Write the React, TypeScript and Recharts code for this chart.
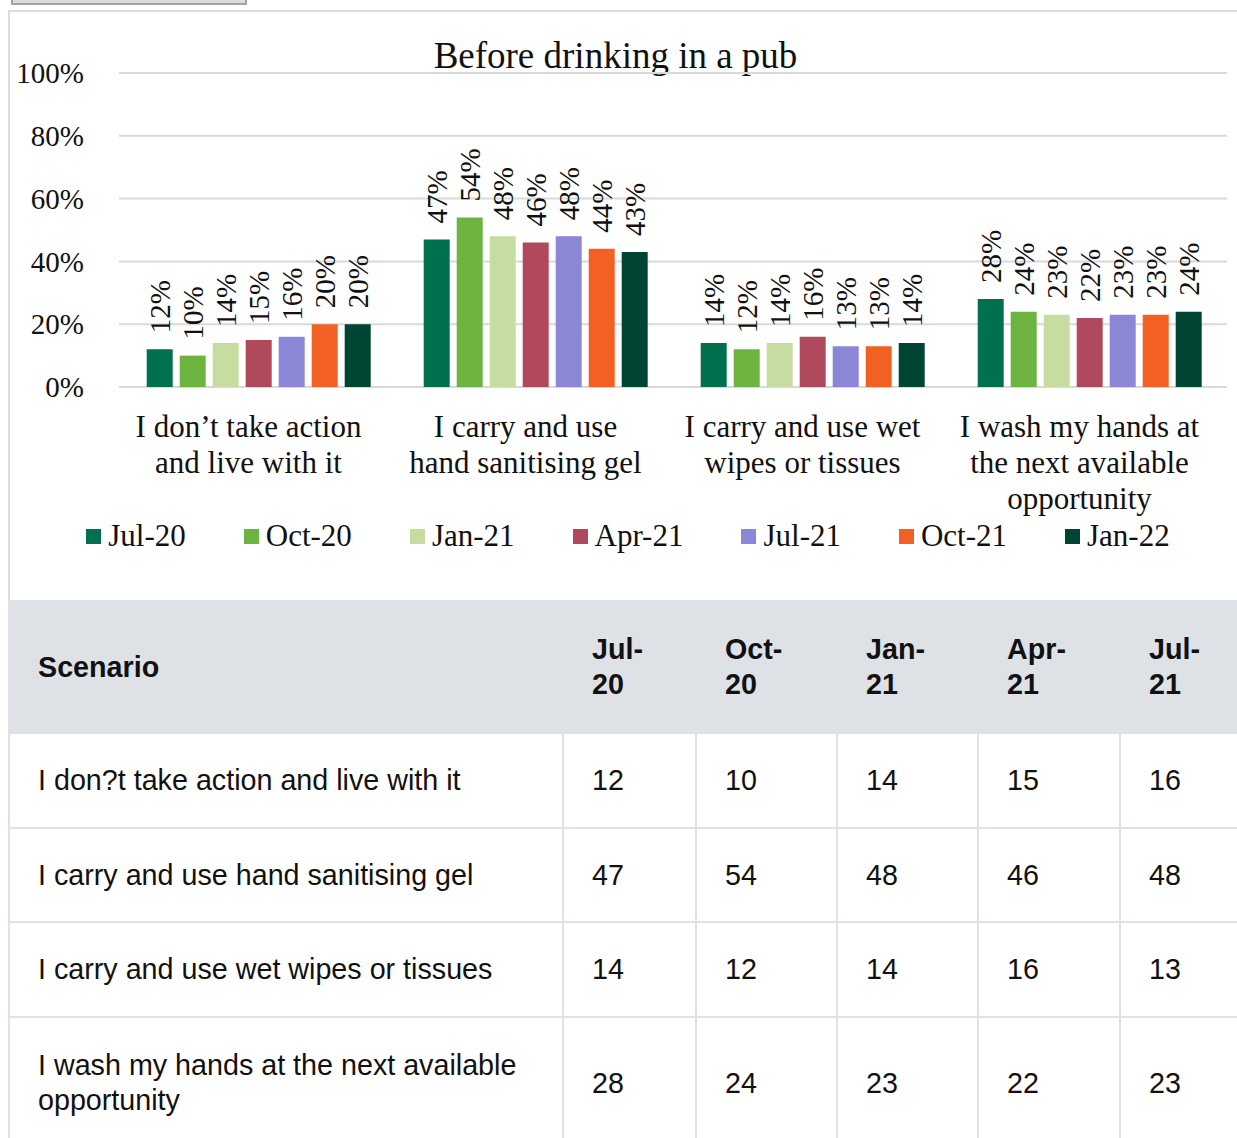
import React from 'react';
import { BarChart, Bar, XAxis, YAxis, CartesianGrid, LabelList, Legend } from 'recharts';

// categories as shown under the bars
const categories = [
  'I don’t take action and live with it',
  'I carry and use hand sanitising gel',
  'I carry and use wet wipes or tissues',
  'I wash my hands at the next available opportunity',
];

const waves = ['Jul-20', 'Oct-20', 'Jan-21', 'Apr-21', 'Jul-21', 'Oct-21', 'Jan-22'];

// % per wave, one value per category
const jul20 = [12, 47, 14, 28];
const oct20 = [10, 54, 12, 24];
const jan21 = [14, 48, 14, 23];
const apr21 = [15, 46, 16, 22];
const jul21 = [16, 48, 13, 23];
const oct21 = [20, 44, 13, 23];
const jan22 = [20, 43, 14, 24];

const yTicks = [0, 20, 40, 60, 80, 100];

const seriesValues = [jul20, oct20, jan21, apr21, jul21, oct21, jan22];
const colors = ['#00704f', '#6db33f', '#c6dca0', '#b0495b', '#8c86d6', '#f26024', '#004433'];

// the table on the page only shows the first five waves before the edge
const tableWaveCount = 5;

const chartData = categories.map((name, i) => {
  const row: Record<string, string | number> = { name };
  seriesValues.forEach((vals, j) => {
    row['s' + j] = vals[i];
  });
  return row;
});

const SERIF = '"Liberation Serif", "Times New Roman", serif';
const SANS = '"Liberation Sans", Arial, sans-serif';

function wrapWords(text: string, maxChars: number) {
  const lines: string[] = [];
  let cur = '';
  text.split(' ').forEach((w) => {
    const next = cur ? cur + ' ' + w : w;
    if (next.length > maxChars && cur) {
      lines.push(cur);
      cur = w;
    } else {
      cur = next;
    }
  });
  if (cur) lines.push(cur);
  return lines;
}

const CategoryTick = (props: any) => {
  const { x, y, payload } = props;
  const lines = wrapWords(String(payload.value), 19);
  const cx = x - 9;
  return (
    <text x={cx} y={y + 50} textAnchor="middle" fontFamily={SERIF} fontSize={31} fill="#111">
      {lines.map((l, i) => (
        <tspan key={i} x={cx} dy={i === 0 ? 0 : 36}>
          {l}
        </tspan>
      ))}
    </text>
  );
};

const BarValueLabel = (props: any) => {
  const { x, y, width, value } = props;
  const cx = Number(x) + Number(width) / 2;
  const cy = Number(y) - 16;
  return (
    <text
      x={cx}
      y={cy}
      transform={`rotate(-90 ${cx} ${cy})`}
      textAnchor="start"
      dominantBaseline="central"
      fontFamily={SERIF}
      fontSize={29}
      fill="#111"
    >
      {value}%
    </text>
  );
};

// legend kept in series order (recharts sorts the payload by default)
const LegendContent = () => (
  <div
    style={{
      display: 'flex',
      justifyContent: 'center',
      alignItems: 'center',
      gap: 58,
      fontFamily: SERIF,
      fontSize: 31,
      lineHeight: '36px',
      color: '#111',
      paddingLeft: 9,
    }}
  >
    {waves.map((w, j) => (
      <div key={w} style={{ display: 'flex', alignItems: 'center' }}>
        <span style={{ width: 15, height: 15, background: colors[j], marginRight: 7, display: 'inline-block' }} />
        <span>{w}</span>
      </div>
    ))}
  </div>
);

const colWidths = [554, 133, 141, 141, 142, 118];
const rowHeights = [95, 94, 95, 132];
const cellBorder = '2px solid #dee2e6';

export default function App() {
  return (
    <div style={{ position: 'relative', width: 1237, height: 1138, overflow: 'hidden', background: '#fff' }}>
      <style>{'body{margin:0}'}</style>
      {/* grey button stub at the very top */}
      <div
        style={{
          position: 'absolute',
          left: 11,
          top: -12,
          width: 232,
          height: 13,
          background: '#dcdcdc',
          border: '2px solid #a3a3a3',
        }}
      />
      {/* chart panel */}
      <div
        style={{
          position: 'absolute',
          left: 8,
          top: 10,
          width: 1300,
          height: 588,
          borderLeft: '2px solid #dcdcdc',
          borderTop: '2px solid #dcdcdc',
          borderBottom: '2px solid #dcdcdc',
        }}
      />
      <div
        style={{
          position: 'absolute',
          left: 0,
          top: 36,
          width: 1231,
          height: 40,
          lineHeight: '40px',
          textAlign: 'center',
          fontFamily: SERIF,
          fontSize: 37,
          color: '#111',
        }}
      >
        Before drinking in a pub
      </div>
      <div style={{ position: 'absolute', left: 10, top: 12 }}>
        <BarChart
          width={1227}
          height={586}
          data={chartData}
          margin={{ top: 61, right: 10, left: 0, bottom: 81 }}
          barCategoryGap="10%"
          barGap={7}
        >
          <CartesianGrid vertical={false} stroke="#d9d9d9" strokeWidth={2} />
          <XAxis
            dataKey="name"
            axisLine={false}
            tickLine={false}
            tickSize={0}
            tickMargin={0}
            height={130}
            interval={0}
            tick={<CategoryTick />}
          />
          <YAxis
            domain={[0, 100]}
            ticks={yTicks}
            width={109}
            axisLine={false}
            tickLine={false}
            tickSize={0}
            tickMargin={35}
            tickFormatter={(v: number) => `${v}%`}
            tick={{ fontFamily: SERIF, fontSize: 29, fill: '#111' }}
          />
          <Legend
            layout="horizontal"
            verticalAlign="middle"
            align="center"
            wrapperStyle={{ top: 506, left: 0, width: 1227, height: 36 }}
            content={<LegendContent />}
          />
          {waves.map((w, j) => (
            <Bar key={w} dataKey={'s' + j} name={w} fill={colors[j]} isAnimationActive={false}>
              <LabelList dataKey={'s' + j} content={<BarValueLabel />} />
            </Bar>
          ))}
        </BarChart>
      </div>
      {/* data table under the chart */}
      <div style={{ position: 'absolute', left: 8, top: 600 }}>
        <table
          style={{
            borderCollapse: 'collapse',
            tableLayout: 'fixed',
            width: colWidths.reduce((a, b) => a + b, 0),
            fontFamily: SANS,
            fontSize: 28.7,
            lineHeight: '35px',
            color: '#111',
          }}
        >
          <colgroup>
            {colWidths.map((cw, i) => (
              <col key={i} style={{ width: cw }} />
            ))}
          </colgroup>
          <thead>
            <tr style={{ height: 132, background: '#dee1e5' }}>
              <th style={{ textAlign: 'left', padding: '0 28px', border: cellBorder, fontWeight: 700 }}>Scenario</th>
              {waves.slice(0, tableWaveCount).map((w) => {
                const [m, yy] = w.split('-');
                return (
                  <th key={w} style={{ textAlign: 'left', padding: '0 28px', border: cellBorder, fontWeight: 700 }}>
                    {m}-
                    <br />
                    {yy}
                  </th>
                );
              })}
            </tr>
          </thead>
          <tbody>
            {categories.map((c, i) => (
              <tr key={c} style={{ height: rowHeights[i] }}>
                <td style={{ padding: '0 28px', border: cellBorder }}>{c.replace('’', '?')}</td>
                {seriesValues.slice(0, tableWaveCount).map((vals, j) => (
                  <td key={j} style={{ padding: '0 28px', border: cellBorder }}>
                    {vals[i]}
                  </td>
                ))}
              </tr>
            ))}
          </tbody>
        </table>
      </div>
    </div>
  );
}
